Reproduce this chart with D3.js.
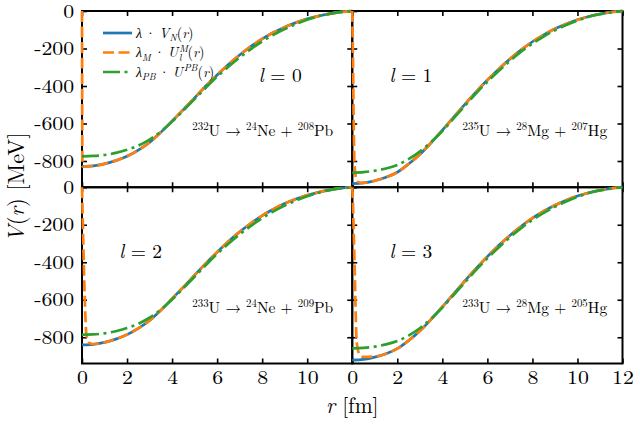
<!DOCTYPE html>
<html>
<head>
<meta charset="utf-8">
<script src="https://cdn.jsdelivr.net/npm/d3@7"></script>
<style>
  body { margin: 0; background: #fff; }
</style>
</head>
<body>
<div id="chart"></div>
<script>
// radial grid (fm)
var rGrid = [0, 0.5, 1, 1.5, 2, 2.5, 3, 3.5, 4, 4.5, 5, 5.5, 6, 6.5, 7, 7.5, 8, 8.5, 9, 9.5, 10, 10.5, 11, 11.5, 12];
var rOrange = [0, 0.02, 0.1, 0.2, 0.35, 0.5, 1, 1.5, 2, 2.5, 3, 3.5, 4, 4.5, 5, 5.5, 6, 6.5, 7, 7.5, 8, 8.5, 9, 9.5, 10, 10.5, 11, 11.5, 12];

// lambda * V_N(r)
var blueL0 = [-829, -826, -815, -798, -775, -742, -701, -647, -587, -526, -463, -400, -341, -285, -235, -189, -149, -115, -86, -62, -42, -27, -14, -5, 0];
var blueL1 = [-921, -917, -905, -887, -860, -816, -765, -703, -636, -567, -498, -431, -368, -310, -256, -207, -164, -127, -95, -69, -47, -29, -16, -6, 0];
var blueL2 = [-841, -838, -827, -810, -786, -753, -711, -656, -595, -533, -469, -406, -346, -289, -238, -192, -151, -117, -87, -63, -43, -27, -14, -5, 0];
var blueL3 = [-922, -918, -906, -888, -861, -818, -767, -705, -638, -569, -500, -433, -370, -311, -257, -208, -165, -128, -96, -69, -47, -29, -16, -6, 0];

// lambda_M * U_l^M(r)
var orangeL0 = [0, -829, -829, -828, -827, -826, -815, -798, -775, -742, -701, -647, -587, -526, -463, -400, -341, -285, -235, -189, -149, -115, -86, -62, -42, -27, -14, -5, 0];
var orangeL1 = [0, -150, -820, -905, -916, -917, -905, -887, -860, -816, -765, -703, -636, -567, -498, -431, -368, -310, -256, -207, -164, -127, -95, -69, -47, -29, -16, -6, 0];
var orangeL2 = [0, -100, -500, -790, -832, -836, -827, -810, -786, -753, -711, -656, -595, -533, -469, -406, -346, -289, -238, -192, -151, -117, -87, -63, -43, -27, -14, -5, 0];
var orangeL3 = [0, -50, -400, -830, -898, -905, -903, -888, -861, -818, -767, -705, -638, -569, -500, -433, -370, -311, -257, -208, -165, -128, -96, -69, -47, -29, -16, -6, 0];

// lambda_PB * U^PB(r)
var greenL0 = [-775, -773, -768, -757, -740, -718, -686, -643, -590, -531, -470, -409, -350, -297, -248, -203, -162, -127, -96, -70, -47, -28, -15, -6, 0];
var greenL1 = [-862, -859, -852, -840, -821, -790, -750, -699, -640, -573, -506, -439, -377, -320, -266, -217, -174, -136, -103, -75, -51, -31, -17, -7, 0];
var greenL2 = [-786, -785, -779, -768, -751, -728, -696, -653, -599, -539, -477, -415, -355, -301, -251, -206, -165, -129, -98, -71, -48, -29, -15, -6, 0];
var greenL3 = [-859, -857, -850, -838, -820, -791, -752, -701, -642, -575, -508, -441, -379, -321, -267, -218, -175, -137, -104, -76, -51, -31, -17, -7, 0];

var xTicks = [0, 2, 4, 6, 8, 10, 12];
var yTicks = [0, -200, -400, -600, -800];
var lValues = [0, 1, 2, 3];
var parents = ['232', '235', '233', '233'];
var clusters = [['24', 'Ne'], ['28', 'Mg'], ['24', 'Ne'], ['28', 'Mg']];
var daughters = [['208', 'Pb'], ['207', 'Hg'], ['209', 'Pb'], ['205', 'Hg']];

var blues = [blueL0, blueL1, blueL2, blueL3];
var oranges = [orangeL0, orangeL1, orangeL2, orangeL3];
var greens = [greenL0, greenL1, greenL2, greenL3];

var width = 640;
var height = 425;
var margin = {left: 82, right: 17.5, top: 11, bottom: 61.5};
var panelW = (width - margin.left - margin.right) / 2;
var panelH = (height - margin.top - margin.bottom) / 2;
var FONT = 'Latin Modern Roman';

var svg = d3.select('#chart')
    .append('svg')
    .attr('width', width)
    .attr('height', height);

var scaleX = d3.scaleLinear().domain([0, 12]).range([0, panelW]);
var scaleY = d3.scaleLinear().domain([-940, 0]).range([panelH, 0]);

// text with italic / sub / superscript pieces
function richText(sel, parts, size) {
  var shift = 0;
  parts.forEach(function(p) {
    var target = p.sup ? -0.38 * size : (p.sub ? 0.28 * size : 0);
    sel.append('tspan')
        .attr('dy', target - shift)
        .attr('dx', p.dx || 0)
        .attr('font-size', (p.sup || p.sub) ? size * 0.7 : size)
        .attr('font-style', p.i ? 'italic' : 'normal')
        .style('white-space', 'pre')
        .text(p.t);
    shift = target;
  });
}

var lineGen = function(xs) {
  return d3.line()
      .x(function(d, i) { return scaleX(xs[i]); })
      .y(function(d) { return scaleY(d); })
      .curve(d3.curveMonotoneX);
};

var orangeDash = '11,4.5';
var greenDash = '17,4.5,3,4.5';

lValues.forEach(function(l, k) {
  var col = k % 2;
  var row = Math.floor(k / 2);
  var g = svg.append('g')
      .attr('transform', 'translate(' + (margin.left + col * panelW) + ',' + (margin.top + row * panelH) + ')');

  // axes with inward ticks
  var bottom = d3.axisBottom(scaleX).tickValues(xTicks).tickSize(-5).tickSizeOuter(0).tickPadding(7)
      .tickFormat(function(d) {
        if (row === 0) return '';
        if (col === 0 && d === 12) return '';
        return d;
      });
  var top = d3.axisTop(scaleX).tickValues(xTicks).tickSize(-5).tickSizeOuter(0).tickFormat('');
  var left = d3.axisLeft(scaleY).tickValues(yTicks).tickSize(-5).tickSizeOuter(0).tickPadding(7)
      .tickFormat(function(d) { return col === 0 ? d : ''; });
  var right = d3.axisRight(scaleY).tickValues(yTicks).tickSize(-5).tickSizeOuter(0).tickFormat('');

  [[bottom, 'translate(0,' + panelH + ')'], [top, null], [left, null], [right, 'translate(' + panelW + ',0)']]
      .forEach(function(a) {
        var ax = g.append('g').call(a[0]);
        if (a[1]) ax.attr('transform', a[1]);
        ax.attr('font-family', null);
        ax.select('.domain').remove();
        ax.selectAll('line').attr('stroke', '#000').attr('stroke-width', 1.6);
        ax.selectAll('text')
            .attr('font-size', 19.5)
            .attr('fill', '#000')
            .attr('transform', 'scale(1.12,1)');
      });

  g.append('rect')
      .attr('width', panelW)
      .attr('height', panelH)
      .attr('fill', 'none')
      .attr('stroke', '#000')
      .attr('stroke-width', 2);

  g.append('path')
      .attr('d', lineGen(rGrid)(blues[k]))
      .attr('fill', 'none')
      .attr('stroke', '#1f77b4')
      .attr('stroke-width', 2.7);
  g.append('path')
      .attr('d', lineGen(rOrange)(oranges[k]))
      .attr('fill', 'none')
      .attr('stroke', '#ff7f0e')
      .attr('stroke-width', 2.7)
      .attr('stroke-dasharray', orangeDash);
  g.append('path')
      .attr('d', lineGen(rGrid)(greens[k]))
      .attr('fill', 'none')
      .attr('stroke', '#2ca02c')
      .attr('stroke-width', 2.7)
      .attr('stroke-dasharray', greenDash);

  // l label
  var lt = g.append('text')
      .attr('x', scaleX(k === 0 ? 7.85 : 1.65))
      .attr('y', scaleY(-378))
      .attr('fill', '#000');
  richText(lt, [{t: 'l', i: true}, {t: ' = ' + l}], 19.5);

  // reaction label
  var rt = g.append('text')
      .attr('x', scaleX(4.9))
      .attr('y', scaleY(-668))
      .attr('fill', '#000');
  richText(rt, [
    {t: parents[k], sup: true}, {t: 'U \u2192 '},
    {t: clusters[k][0], sup: true}, {t: clusters[k][1] + ' + '},
    {t: daughters[k][0], sup: true}, {t: daughters[k][1]}
  ], 15.5);

  // legend
  if (k === 0) {
    var items = [
      {c: '#1f77b4', dash: null, parts: [{t: '\u03bb', i: true}, {t: '\u00b7', dx: 3}, {t: 'V', i: true, dx: 3}, {t: 'N', i: true, sub: true}, {t: '('}, {t: 'r', i: true}, {t: ')'}]},
      {c: '#ff7f0e', dash: orangeDash, parts: [{t: '\u03bb', i: true}, {t: 'M', i: true, sub: true}, {t: '\u00b7', dx: 3}, {t: 'U', i: true, dx: 3}, {t: 'M', i: true, sup: true, dx: 1}, {t: 'l', i: true, sub: true, dx: -9}, {t: '(', dx: 6}, {t: 'r', i: true}, {t: ')'}]},
      {c: '#2ca02c', dash: greenDash, parts: [{t: '\u03bb', i: true}, {t: 'PB', i: true, sub: true}, {t: '\u00b7', dx: 3}, {t: 'U', i: true, dx: 3}, {t: 'PB', i: true, sup: true, dx: 1}, {t: '('}, {t: 'r', i: true}, {t: ')'}]}
    ];
    items.forEach(function(it, j) {
      var y = 22 + j * 19.5;
      g.append('line')
          .attr('x1', 21).attr('x2', 50)
          .attr('y1', y).attr('y2', y)
          .attr('stroke', it.c)
          .attr('stroke-width', 2.7)
          .attr('stroke-dasharray', it.dash);
      var t = g.append('text').attr('x', 54).attr('y', y + 4.5).attr('fill', '#000');
      richText(t, it.parts, 14);
    });
  }
});

// axis titles
var yt = svg.append('text')
    .attr('transform', 'translate(24,' + (margin.top + panelH) + ') rotate(-90)')
    .attr('text-anchor', 'middle')
    .attr('fill', '#000');
richText(yt, [{t: 'V', i: true}, {t: '('}, {t: 'r', i: true}, {t: ') [MeV]'}], 22.5);

var xt = svg.append('text')
    .attr('x', margin.left + panelW)
    .attr('y', 413)
    .attr('text-anchor', 'middle')
    .attr('fill', '#000');
richText(xt, [{t: 'r', i: true}, {t: ' [fm]'}], 21.5);

svg.selectAll('text').style('font-family', FONT);
svg.selectAll('tspan').style('font-family', FONT);
</script>
</body>
</html>
